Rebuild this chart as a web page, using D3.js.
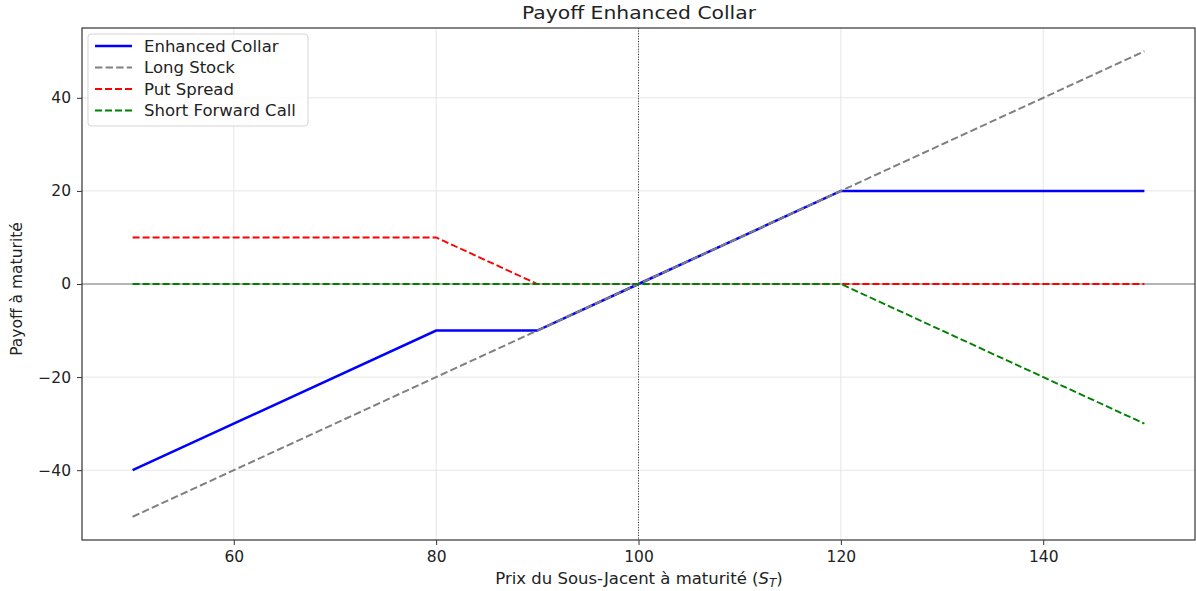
<!DOCTYPE html>
<html>
<head>
<meta charset="utf-8">
<script src="https://cdn.jsdelivr.net/npm/d3@7"></script>
<style>
  body { margin: 0; background: #fff; }
  text { font-family: "DejaVu Sans", sans-serif; fill: #222; }
</style>
</head>
<body>
<svg id="chart" width="1196" height="591"></svg>
<script>
// Breakpoints of the payoff curves (piecewise linear)
const spot = [50, 80, 90, 100, 120, 150]
const enhancedCollar = [-40, -10, -10, 0, 20, 20]
const longStock = [-50, -20, -10, 0, 20, 50]
const putSpread = [10, 10, 0, 0, 0, 0]
const shortForwardCall = [0, 0, 0, 0, 0, -30]

const xTicks = [60, 80, 100, 120, 140]
const yTicks = [-40, -20, 0, 20, 40]

const series = [
  {name: "Enhanced Collar", values: enhancedCollar, color: "#0000ff", width: 2.5, dash: null},
  {name: "Long Stock", values: longStock, color: "#808080", width: 2, dash: "7.4,3.2"},
  {name: "Put Spread", values: putSpread, color: "#ff0000", width: 1.9, dash: "7,3"},
  {name: "Short Forward Call", values: shortForwardCall, color: "#008000", width: 1.9, dash: "7,3"}
]

const width = 1196, height = 591
const margin = {top: 28, right: 1, bottom: 51, left: 82}

const svg = d3.select("#chart")

let x = d3.scaleLinear()
  .domain([45, 155])
  .range([margin.left, width - margin.right])
let y = d3.scaleLinear()
  .domain([-55, 55])
  .range([height - margin.bottom, margin.top])

// Grid
const grid = svg.append("g").attr("class", "grid")
grid.selectAll(".gx")
  .data(xTicks)
  .enter().append("line")
    .attr("x1", d => x(d)).attr("x2", d => x(d))
    .attr("y1", y.range()[1]).attr("y2", y.range()[0])
    .attr("stroke", "#e6e6e6").attr("stroke-width", 1)
grid.selectAll(".gy")
  .data(yTicks)
  .enter().append("line")
    .attr("y1", d => y(d)).attr("y2", d => y(d))
    .attr("x1", x.range()[0]).attr("x2", x.range()[1])
    .attr("stroke", "#e6e6e6").attr("stroke-width", 1)

// Reference lines
svg.append("line")
  .attr("x1", x.range()[0]).attr("x2", x.range()[1])
  .attr("y1", y(0)).attr("y2", y(0))
  .attr("stroke", "#000").attr("stroke-opacity", 0.5).attr("stroke-width", 1)
svg.append("line")
  .attr("x1", x(100)).attr("x2", x(100))
  .attr("y1", y.range()[1]).attr("y2", y.range()[0])
  .attr("stroke", "#000").attr("stroke-width", 0.8).attr("stroke-dasharray", "1,1.6")

// Curves
const line = d3.line()
  .x(d => x(d[0]))
  .y(d => y(d[1]))

svg.selectAll(".curve")
  .data(series)
  .enter().append("path")
    .attr("class", "curve")
    .attr("fill", "none")
    .attr("stroke", d => d.color)
    .attr("stroke-width", d => d.width)
    .attr("stroke-dasharray", d => d.dash)
    .attr("d", d => line(spot.map((s, i) => [s, d.values[i]])))

// Axes
const xAxis = svg.append("g")
  .attr("transform", `translate(0,${y.range()[0]})`)
  .call(d3.axisBottom(x).tickValues(xTicks).tickSize(5).tickPadding(6))
const yAxis = svg.append("g")
  .attr("transform", `translate(${x.range()[0]},0)`)
  .call(d3.axisLeft(y).tickValues(yTicks).tickSize(5).tickPadding(6))
for (const ax of [xAxis, yAxis]) {
  ax.select(".domain").remove()
  ax.selectAll("line").attr("stroke", "#333").attr("stroke-width", 1)
  ax.selectAll("text").attr("font-size", 15.5).attr("fill", "#222")
    .attr("font-family", "DejaVu Sans, sans-serif")
}

// Frame
svg.append("rect")
  .attr("x", x.range()[0]).attr("y", y.range()[1])
  .attr("width", x.range()[1] - x.range()[0])
  .attr("height", y.range()[0] - y.range()[1])
  .attr("fill", "none").attr("stroke", "#333").attr("stroke-width", 1.2)

// Title and labels
svg.append("text")
  .attr("x", 639).attr("y", 19)
  .attr("text-anchor", "middle").attr("font-size", 18)
  .attr("textLength", 234).attr("lengthAdjust", "spacingAndGlyphs")
  .text("Payoff Enhanced Collar")
const xl = svg.append("text")
  .attr("x", 639).attr("y", 584)
  .attr("text-anchor", "middle").attr("font-size", 16.5)
xl.append("tspan").text("Prix du Sous-Jacent à maturité (")
xl.append("tspan").attr("font-style", "italic").text("S")
xl.append("tspan").attr("font-style", "italic").attr("font-size", 12).attr("dy", 3).text("T")
xl.append("tspan").attr("dy", -3).text(")")
svg.append("text")
  .attr("transform", "translate(22,289) rotate(-90)")
  .attr("text-anchor", "middle").attr("font-size", 15.5)
  .text("Payoff à maturité")

// Legend
const legend = svg.append("g").attr("transform", "translate(88,34)")
legend.append("rect")
  .attr("width", 220).attr("height", 92).attr("rx", 3)
  .attr("fill", "#fff").attr("fill-opacity", 0.8)
  .attr("stroke", "#d5d5d5")
const item = legend.selectAll(".item")
  .data(series)
  .enter().append("g")
    .attr("transform", (d, i) => `translate(0,${12 + i * 21.5})`)
item.append("line")
  .attr("x1", 7).attr("x2", 44)
  .attr("stroke", d => d.color)
  .attr("stroke-width", d => d.width)
  .attr("stroke-dasharray", d => d.dash)
item.append("text")
  .attr("x", 56).attr("dy", "0.35em").attr("font-size", 16.5)
  .text(d => d.name)
</script>
</body>
</html>
